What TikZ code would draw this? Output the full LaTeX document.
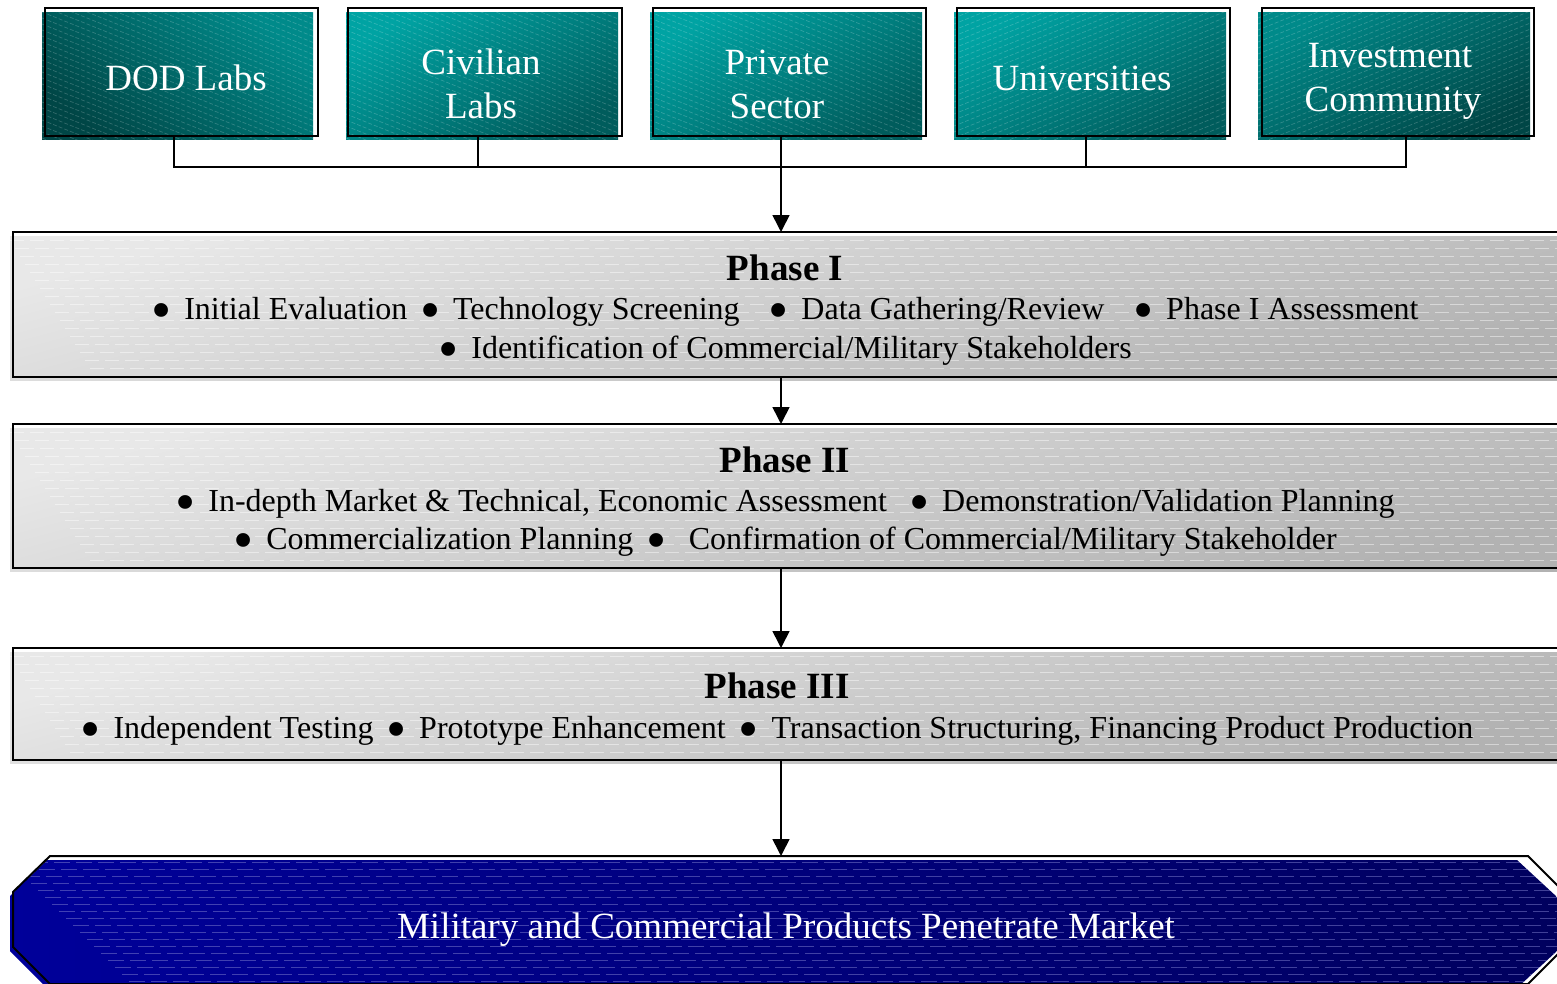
\documentclass[tikz,border=0pt]{standalone}
\usepackage{fontspec}
\setmainfont{Liberation Serif}
\usetikzlibrary{arrows.meta,calc}
\definecolor{tealA}{HTML}{008A8A}
\definecolor{tealB}{HTML}{004646}
\definecolor{tealC}{HTML}{00A3A3}
\definecolor{tealD}{HTML}{005C5C}
\definecolor{grayA}{HTML}{E8E8E8}
\definecolor{grayB}{HTML}{B2B2B2}
\definecolor{blueA}{HTML}{00009A}
\definecolor{blueB}{HTML}{00005E}
\definecolor{blueLine}{HTML}{8080D0}
\newcommand\bul{\raisebox{-0.34em}[0.4em][0pt]{\scalebox{1.8}{\textbullet}}\hspace{0.4em}}
\begin{document}
\begin{tikzpicture}[x=1pt,y=-1pt,
  outline/.style={draw=black,line width=2pt,inner sep=0pt,outer sep=0pt,fill=none},
  conn/.style={draw=black,line width=1.6pt},
  arr/.style={conn,-{Triangle[length=17pt,width=17pt]}},
  toptext/.style={text=white,font=\fontsize{37}{44}\selectfont,anchor=base,inner sep=0pt},
  headtext/.style={text=black,font=\fontsize{37}{44}\selectfont\bfseries,anchor=base,inner sep=0pt},
  itemtext/.style={text=black,font=\fontsize{32}{39}\selectfont,anchor=base,inner sep=0pt},
  bottext/.style={text=white,font=\fontsize{37}{44}\selectfont,anchor=base,inner sep=0pt},
  tex/.style={white,opacity=0.22,line width=0.6pt,dash pattern=on 4pt off 2pt},
  gtex/.style={white,opacity=0.45,line width=0.9pt,dash pattern=on 14pt off 6pt},
  btex/.style={blueLine,opacity=0.5,line width=1pt,dash pattern=on 16pt off 6pt}
]
\useasboundingbox (0,0) rectangle (1557,983);

% ---------- teal source boxes: fills ----------
\shade[top color=tealA,bottom color=tealB,shading angle=-40] (42,12) rectangle (313,139);
\begin{scope}\clip (42,12) rectangle (313,139);
  \foreach \k in {-22,...,24} \draw[tex] (42,12+\k*6) -- ++(280,112);
\end{scope}
\shade[top color=tealC,bottom color=tealD,shading angle=30] (346,12) rectangle (618,139);
\begin{scope}\clip (346,12) rectangle (618,139);
  \foreach \k in {-22,...,24} \draw[tex] (346,12+\k*6) -- ++(280,112);
\end{scope}
\shade[top color=tealC,bottom color=tealD,shading angle=30] (650,12) rectangle (922,139);
\begin{scope}\clip (650,12) rectangle (922,139);
  \foreach \k in {-22,...,24} \draw[tex] (650,12+\k*6) -- ++(280,112);
\end{scope}
\shade[top color=tealC,bottom color=tealD,shading angle=30] (954,12) rectangle (1226,139);
\begin{scope}\clip (954,12) rectangle (1226,139);
  \foreach \k in {-2,...,44} \draw[tex] (954,12+\k*6) -- ++(280,-112);
\end{scope}
\shade[top color=tealA,bottom color=tealB,shading angle=30] (1258,12) rectangle (1530,139);
\begin{scope}\clip (1258,12) rectangle (1530,139);
  \foreach \k in {-2,...,44} \draw[tex] (1258,12+\k*6) -- ++(280,-112);
\end{scope}

% ---------- teal source boxes: outlines ----------
\node[outline,minimum width=273pt,minimum height=128pt] (dod)  at (181.5,72) {};
\node[outline,minimum width=274pt,minimum height=128pt] (civ)  at (485,72) {};
\node[outline,minimum width=273pt,minimum height=128pt] (priv) at (789.5,72) {};
\node[outline,minimum width=273pt,minimum height=128pt] (uni)  at (1093.5,72) {};
\node[outline,minimum width=272pt,minimum height=128pt] (inv)  at (1398,72) {};

\node[toptext] (dodt)  at (186,90)  {DOD Labs};
\node[toptext] (civt1) at (481,74)  {Civilian};
\node[toptext] (civt2) at (481,118) {Labs};
\node[toptext] (prit1) at (777,74)  {Private};
\node[toptext] (prit2) at (777,118) {Sector};
\node[toptext] (unit)  at (1082,90) {Universities};
\node[toptext] (invt1) at (1390,67) {Investment};
\node[toptext] (invt2) at (1393,111){Community};

% ---------- phase boxes: fills ----------
\shade[top color=grayA,bottom color=grayB,shading angle=15] (10,236) rectangle (1557,380);
\begin{scope}\clip (10,236) rectangle (1557,380);
  \foreach \k in {0,...,18} \draw[gtex] (10+\k*5,240+\k*8) -- ++(1560,0);
\end{scope}
\shade[top color=grayA,bottom color=grayB,shading angle=15] (10,428) rectangle (1557,571);
\begin{scope}\clip (10,428) rectangle (1557,571);
  \foreach \k in {0,...,18} \draw[gtex] (10+\k*5,432+\k*8) -- ++(1560,0);
\end{scope}
\shade[top color=grayA,bottom color=grayB,shading angle=15] (10,652) rectangle (1557,763);
\begin{scope}\clip (10,652) rectangle (1557,763);
  \foreach \k in {0,...,14} \draw[gtex] (10+\k*5,656+\k*8) -- ++(1560,0);
\end{scope}

% ---------- phase boxes: outlines ----------
\node[outline,minimum width=1552pt,minimum height=145pt] (p1) at (789,304.5) {};
\node[outline,minimum width=1552pt,minimum height=144pt] (p2) at (789,496) {};
\node[outline,minimum width=1552pt,minimum height=112pt] (p3) at (789,704) {};

\node[headtext] (h1) at (785,280) {Phase I};
\node[itemtext] (p1a) at (785,319) {\bul Initial Evaluation\hspace{0.4em}\bul Technology Screening\hspace{0.9em}\bul Data Gathering/Review\hspace{0.9em}\bul Phase I Assessment};
\node[itemtext] (p1b) at (785,358) {\bul Identification of Commercial/Military Stakeholders};

\node[headtext] (h2) at (785,472) {Phase II};
\node[itemtext] (p2a) at (785,511) {\bul In-depth Market \& Technical, Economic Assessment\hspace{0.7em}\bul Demonstration/Validation Planning};
\node[itemtext] (p2b) at (785,549) {\bul Commercialization Planning\hspace{0.4em}\bul\hspace{0.3em}Confirmation of Commercial/Military Stakeholder};

\node[headtext] (h3) at (777,698) {Phase III};
\node[itemtext] (p3a) at (777,738) {\bul Independent Testing\hspace{0.4em}\bul Prototype Enhancement\hspace{0.4em}\bul Transaction Structuring, Financing Product Production};

% ---------- bottom octagon ----------
\shade[left color=blueA,right color=blueB] (47,860) -- (1517,860) -- (1557,897) -- (1557,951) -- (1517,988) -- (47,988) -- (10,951) -- (10,896) -- cycle;
\begin{scope}\clip (47,860) -- (1517,860) -- (1557,897) -- (1557,951) -- (1517,988) -- (47,988) -- (10,951) -- (10,896) -- cycle;
  \foreach \k in {0,...,18} \draw[btex] (10+\k*7,862+\k*7) -- ++(1560,0);
\end{scope}
\draw[black,line width=2pt] (50,856) -- (1528,856) -- (1565,893) -- (1565,947) -- (1528,984) -- (50,984) -- (13,947) -- (13,892) -- cycle;
\node[minimum width=1552pt,minimum height=128pt,inner sep=0pt,outer sep=0pt] (mkt) at (789,920) {};
\node[bottext] (mktt) at (786,938) {Military and Commercial Products Penetrate Market};

% ---------- connectors ----------
\coordinate (c1) at (174,167);
\coordinate (c2) at (478,167);
\coordinate (c3) at (781,167);
\coordinate (c4) at (1086,167);
\coordinate (c5) at (1406,167);
\draw[conn] (c1 |- dod.south) -- (c1) -- (c5) -- (c5 |- inv.south);
\draw[conn] (c2 |- civ.south) -- (c2);
\draw[conn] (c4 |- uni.south) -- (c4);
\draw[conn] (c3 |- priv.south) -- (c3);
\draw[arr] (c3) -- (c3 |- p1.north);
\draw[arr] (c3 |- p1.south) -- (c3 |- p2.north);
\draw[arr] (c3 |- p2.south) -- (c3 |- p3.north);
\draw[arr] (c3 |- p3.south) -- (c3 |- mkt.north);
\end{tikzpicture}
\end{document}
